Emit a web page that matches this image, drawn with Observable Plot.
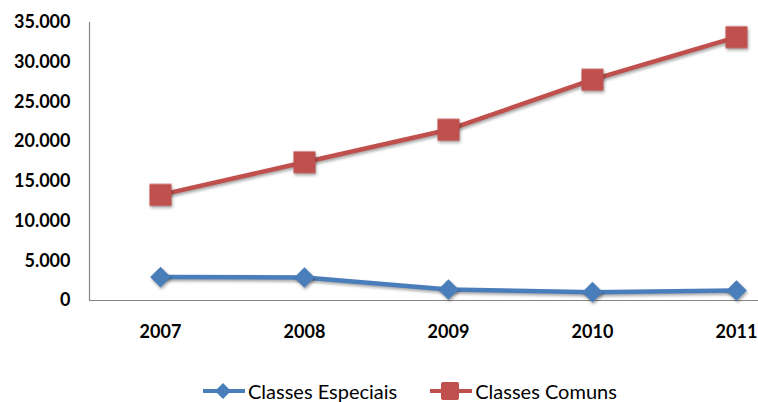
<!DOCTYPE html>
<html>
<head>
<meta charset="utf-8">
<script src="https://cdn.jsdelivr.net/npm/d3@7"></script>
<script src="https://cdn.jsdelivr.net/npm/@observablehq/plot@0.6"></script>
<style>
  html, body { margin: 0; padding: 0; background: #fff; }
  body { width: 758px; height: 402px; overflow: hidden; font-family: Lato, "Open Sans", sans-serif; }
  #chart svg { display: block; }
  .shadow { filter: drop-shadow(1px 2px 1.5px rgba(0,0,0,0.35)); }
  #legend { display: flex; align-items: center; height: 30px; padding-top: 4px; padding-left: 203px; font-size: 20px; color: #000; }
  #legend .item { display: flex; align-items: center; margin-right: 33px; }
  #legend svg { margin-right: 3px; }
</style>
</head>
<body>
<div id="chart"></div>
<div id="legend"></div>
<script>
const years = [2007, 2008, 2009, 2010, 2011];
const especiais = [2950, 2900, 1380, 1050, 1260];
const comuns = [13300, 17400, 21500, 27800, 33150];
const seriesNames = ["Classes Especiais", "Classes Comuns"];
const seriesColors = ["#4a7ebb", "#c0504d"];
const yTicks = [0, 5000, 10000, 15000, 20000, 25000, 30000, 35000];

const locale = d3.formatLocale({decimal: ",", thousands: ".", grouping: [3], currency: ["", ""]});
const fmt = locale.format(",d");

const data = [];
years.forEach((yr, i) => {
  data.push({year: yr, value: especiais[i], series: seriesNames[0]});
  data.push({year: yr, value: comuns[i], series: seriesNames[1]});
});
const esp = data.filter(d => d.series === seriesNames[0]);
const com = data.filter(d => d.series === seriesNames[1]);

const chart = Plot.plot({
  width: 758,
  height: 372,
  marginLeft: 89,
  marginRight: 0,
  marginTop: 22,
  marginBottom: 72,
  style: {fontFamily: "Lato, 'Open Sans', sans-serif", fontSize: "18px", fontWeight: "bold", color: "#000", background: "#fff"},
  x: {type: "linear", domain: [2006.507, 2011.153], ticks: years, tickFormat: d => String(d), tickSize: 0, tickPadding: 25, label: null},
  y: {domain: [0, 35000], ticks: yTicks, tickFormat: fmt, tickSize: 0, tickPadding: 19, label: null},
  marks: [
    Plot.ruleY([0], {stroke: "#868686", strokeWidth: 1.2}),
    Plot.ruleX([2006.507], {stroke: "#868686", strokeWidth: 1.2}),
    Plot.line(esp, {x: "year", y: "value", stroke: seriesColors[0], strokeWidth: 4.5, className: "shadow"}),
    Plot.line(com, {x: "year", y: "value", stroke: seriesColors[1], strokeWidth: 4.5, className: "shadow"}),
    Plot.dot(esp, {x: "year", y: "value", symbol: "diamond2", r: 9.3, fill: seriesColors[0], stroke: "none", className: "shadow"}),
    Plot.dot(com, {x: "year", y: "value", symbol: "square", r: 12.4, fill: seriesColors[1], stroke: "none", className: "shadow"})
  ]
});
document.getElementById("chart").appendChild(chart);

const legend = document.getElementById("legend");
seriesNames.forEach((name, i) => {
  const item = document.createElement("div");
  item.className = "item";
  const sym = i === 0
    ? `<polygon points="20,4 28,12 20,20 12,12" fill="${seriesColors[0]}"/>`
    : `<rect x="11" y="3" width="18" height="18" rx="2" fill="${seriesColors[1]}"/>`;
  item.innerHTML = `<svg width="42" height="24"><line x1="0" y1="12" x2="42" y2="12" stroke="${seriesColors[i]}" stroke-width="4"/>${sym}</svg><span>${name}</span>`;
  legend.appendChild(item);
});
</script>
</body>
</html>
